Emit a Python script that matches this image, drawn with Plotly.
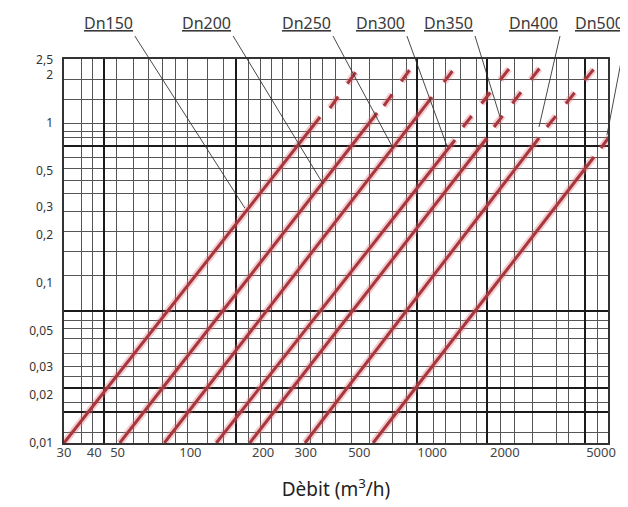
import numpy as np
import plotly.graph_objects as go

# ---------------- data ----------------
dn_labels = ["Dn150", "Dn200", "Dn250", "Dn300", "Dn350", "Dn400", "Dn500"]

# each pipe line: solid part from (q_start, 0.01) to (q_solid_end, j_solid_end),
# then a dashed continuation from (q_dash_start, j_dash_start) to (q_dash_end, j_dash_end)
q_start = [30, 51, 78, 128, 176, 298, 570]
j_start = [0.01, 0.01, 0.01, 0.01, 0.01, 0.01, 0.01]
q_solid_end = [344, 592, 999, 1244, 1687, 2769, 4677]
j_solid_end = [1.09, 1.155, 1.45, 0.783, 0.806, 0.806, 0.613]
q_dash_start = [378, 632, 1120, 1342, 1804, 2988, 4998]
j_dash_start = [1.24, 1.28, 1.80, 0.944, 0.944, 0.944, 0.698]
q_dash_end = [494, 834, 1221, 2141, 2850, 4812, 5604]
j_dash_end = [2.18, 2.30, 2.14, 2.30, 2.30, 2.30, 0.879]

# point on each line where the label's leader ends
q_label_pt = [168, 354, 689, 1152, 1910, 2769, 5292]
j_label_pt = [0.294, 0.416, 0.698, 0.718, 1.09, 0.944, 0.841]

# axis tick labels
x_tick_vals = [30, 40, 50, 100, 200, 300, 500, 1000, 2000, 5000]
x_tick_text = ["30", "40", "50", "100", "200", "300", "500", "1000", "2000", "5000"]
y_tick_vals = [2.5, 2, 1, 0.5, 0.3, 0.2, 0.1, 0.05, 0.03, 0.02, 0.01]
y_tick_text = ["2,5", "2", "1", "0,5", "0,3", "0,2", "0,1", "0,05", "0,03", "0,02", "0,01"]

# graph-paper grid lines (thin and heavy)
x_grid_thin = [35.6, 39.2, 49.7, 57.9, 66.8, 77.0, 86.4, 97.7, 117.2, 137.7, 173.2,
               194.1, 217.6, 241.6, 278.8, 315.5, 350.4, 396.6, 466, 553.5, 689.1,
               787.4, 1009, 1131, 1305, 1534, 1910, 2183, 2591, 3256, 3685, 4812]
x_grid_thick = [43.9, 154.4, 866.1, 1687, 4294]
y_grid_thin = [1.857, 1.393, 1.0, 0.879, 0.806, 0.613, 0.523, 0.440, 0.365, 0.278,
               0.211, 0.158, 0.112, 0.0587, 0.0516, 0.0453, 0.0365, 0.0299, 0.0262,
               0.0180, 0.0117]
y_grid_thick = [0.718, 0.0668, 0.0221, 0.0156]

# ---------------- figure ----------------
RED_CORE = "#a8363d"
RED_HALO = "rgba(220,110,120,0.35)"
DASH = "14px,16px"

fig = go.Figure()
for i, name in enumerate(dn_labels):
    xs = [q_start[i], q_solid_end[i]]
    ys = [j_start[i], j_solid_end[i]]
    xd = [q_dash_start[i], q_dash_end[i]]
    yd = [j_dash_start[i], j_dash_end[i]]
    # soft halo on the base (grid) axes
    fig.add_trace(go.Scatter(x=xs, y=ys, mode="lines", xaxis="x", yaxis="y",
                             line=dict(color=RED_HALO, width=7), hoverinfo="skip"))
    fig.add_trace(go.Scatter(x=xd, y=yd, mode="lines", xaxis="x", yaxis="y",
                             line=dict(color=RED_HALO, width=7, dash=DASH), hoverinfo="skip"))
    # line core on the overlay (labelled) axes
    fig.add_trace(go.Scatter(x=xs, y=ys, mode="lines", name=name, xaxis="x2", yaxis="y2",
                             line=dict(color=RED_CORE, width=3)))
    fig.add_trace(go.Scatter(x=xd, y=yd, mode="lines", name=name, xaxis="x2", yaxis="y2",
                             line=dict(color=RED_CORE, width=3, dash=DASH)))

x_range = [np.log10(30), np.log10(30) + 544 / 241.7]
y_range = [-2, 0.4]

# leader offsets (pixels) from the line point to the label corner
lead_ax = [-110, -90, -60, -40, -25, 21, 19]
lead_ay = [-172, -148, -112, -110, -81, -91, -99]

for i, name in enumerate(dn_labels):
    fig.add_annotation(
        x=np.log10(q_label_pt[i]), y=np.log10(j_label_pt[i]), xref="x2", yref="y2",
        text=name, showarrow=True, arrowhead=0, arrowwidth=0.9, arrowcolor="#333",
        ax=lead_ax[i], ay=lead_ay[i], axref="pixel", ayref="pixel",
        xanchor="right", yanchor="bottom", standoff=0, startstandoff=0,
        font=dict(family="Noto Sans", size=16, color="#3a3a3a",
                  lineposition="under"),
    )

GRID_THIN = "#555"
GRID_THICK = "#1a1a1a"

fig.update_layout(
    width=620, height=499,
    margin=dict(l=56, r=20, t=51, b=64),
    paper_bgcolor="white", plot_bgcolor="white",
    showlegend=False, hovermode=False,
    # base axes: graph-paper grid (heavy = major, thin = minor)
    xaxis=dict(
        type="log", range=x_range,
        tickmode="array", tickvals=x_grid_thick, showticklabels=False, ticks="",
        showgrid=True, gridcolor=GRID_THICK, gridwidth=2, zeroline=False,
        showline=True, mirror=True, linecolor="#333", linewidth=1.5,
        minor=dict(tickmode="array", tickvals=x_grid_thin, showgrid=True,
                   gridcolor=GRID_THIN, gridwidth=1, ticks=""),
    ),
    yaxis=dict(
        type="log", range=y_range,
        tickmode="array", tickvals=y_grid_thick, showticklabels=False, ticks="",
        showgrid=True, gridcolor=GRID_THICK, gridwidth=2, zeroline=False,
        showline=True, mirror=True, linecolor="#333", linewidth=1.5,
        minor=dict(tickmode="array", tickvals=y_grid_thin, showgrid=True,
                   gridcolor=GRID_THIN, gridwidth=1, ticks=""),
    ),
    # overlay axes: data and labels
    xaxis2=dict(
        type="log", range=x_range, overlaying="x", anchor="y2", side="bottom",
        tickmode="array", tickvals=x_tick_vals, ticktext=x_tick_text,
        tickfont=dict(family="Noto Sans", size=13, color="#444"),
        ticks="", showgrid=False, zeroline=False, showline=False,
        title=dict(text="Dèbit (m<sup>3</sup>/h)", standoff=22,
                   font=dict(family="Noto Sans", size=19, color="#222")),
    ),
    yaxis2=dict(
        type="log", range=y_range, overlaying="y", anchor="x2", side="left",
        tickmode="array", tickvals=y_tick_vals, ticktext=y_tick_text,
        tickfont=dict(family="Noto Sans", size=12, color="#333"),
        ticks="", ticklabelstandoff=10,
        showgrid=False, zeroline=False, showline=False,
    ),
)

fig.write_html("out.html", config={"displayModeBar": False})
